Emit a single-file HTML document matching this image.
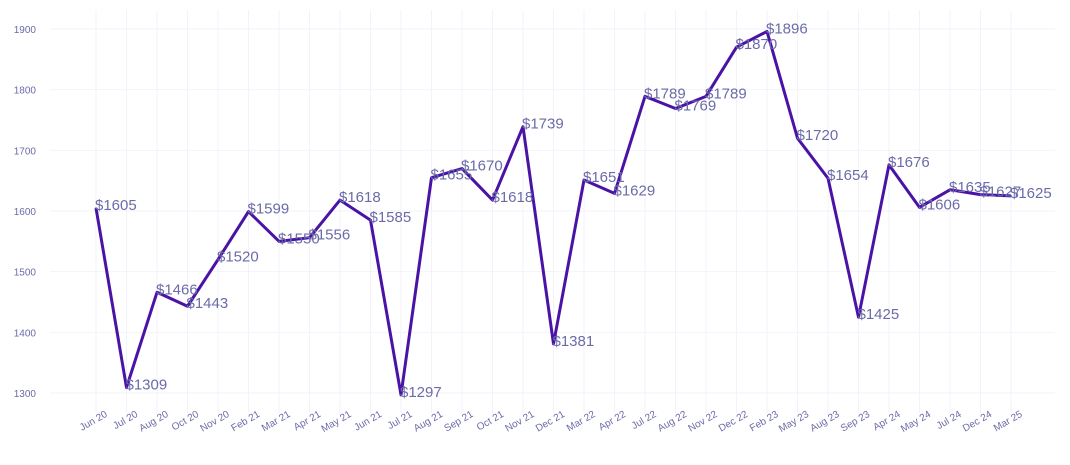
<!DOCTYPE html>
<html><head><meta charset="utf-8"><style>
body{margin:0;background:#fff;}
svg{display:block;font-family:"Liberation Sans",sans-serif;}
</style></head><body>
<svg id="chart" width="1070" height="465" viewBox="0 0 1070 465">
<g id="grid"></g>
<g id="yaxis"></g>
<g id="xaxis"></g>
<g id="series"></g>
<g id="labels"></g>
</svg>
<script>
const categories=["Jun 20","Jul 20","Aug 20","Oct 20","Nov 20","Feb 21","Mar 21","Apr 21","May 21","Jun 21","Jul 21","Aug 21","Sep 21","Oct 21","Nov 21","Dec 21","Mar 22","Apr 22","Jul 22","Aug 22","Nov 22","Dec 22","Feb 23","May 23","Aug 23","Sep 23","Apr 24","May 24","Jul 24","Dec 24","Mar 25"];
const values=[1605,1309,1466,1443,1520,1599,1550,1556,1618,1585,1297,1655,1670,1618,1739,1381,1651,1629,1789,1769,1789,1870,1896,1720,1654,1425,1676,1606,1635,1627,1625];
const yTicks=[1300,1400,1500,1600,1700,1800,1900];
const NS="http://www.w3.org/2000/svg";
const x0=96,x1=1011,plotL=50,plotR=1055,plotT=10,plotB=413;
function xs(i){return x0+(x1-x0)*i/(categories.length-1);}
function ys(v){return 393-(v-1300)*(393-29)/600;}
function mk(tag,attrs,parent){const e=document.createElementNS(NS,tag);for(const k in attrs)e.setAttribute(k,attrs[k]);parent.appendChild(e);return e;}
const grid=document.getElementById('grid'),ya=document.getElementById('yaxis'),xa=document.getElementById('xaxis'),ser=document.getElementById('series'),lab=document.getElementById('labels');
yTicks.forEach(t=>{
  const l=mk('line',{x1:plotL,x2:plotR,y1:ys(t),y2:ys(t),stroke:'#f3f2fb','stroke-width':1},grid);
  
  
  const tx=mk('text',{x:36,y:ys(t)+4,'text-anchor':'end','font-size':10,fill:'#6b6ba8'},ya);
  tx.textContent=t;
  
  
});
categories.forEach((c,i)=>{
  const l=mk('line',{x1:xs(i),x2:xs(i),y1:plotT,y2:plotB,stroke:'#f3f2fb','stroke-width':1},grid);
  
  
  const tx=mk('text',{x:xs(i)+12,y:416,'text-anchor':'end','font-size':10,fill:'#6b6ba8',transform:`rotate(-30 ${xs(i)+12} 416)`},xa);
  tx.textContent=c;
  
  
});
const pts=values.map((v,i)=>xs(i)+','+ys(v)).join(' ');
const pl=mk('polyline',{points:pts,fill:'none',stroke:'#4a13a6','stroke-width':3,'stroke-linejoin':'round'},ser);


values.forEach((v,i)=>{
  const tx=mk('text',{x:xs(i)-1,y:ys(v)+2,'font-size':15,fill:'#6b6ba8'},lab);
  tx.textContent='$'+v;
  
  
});
</script>
</body></html>
